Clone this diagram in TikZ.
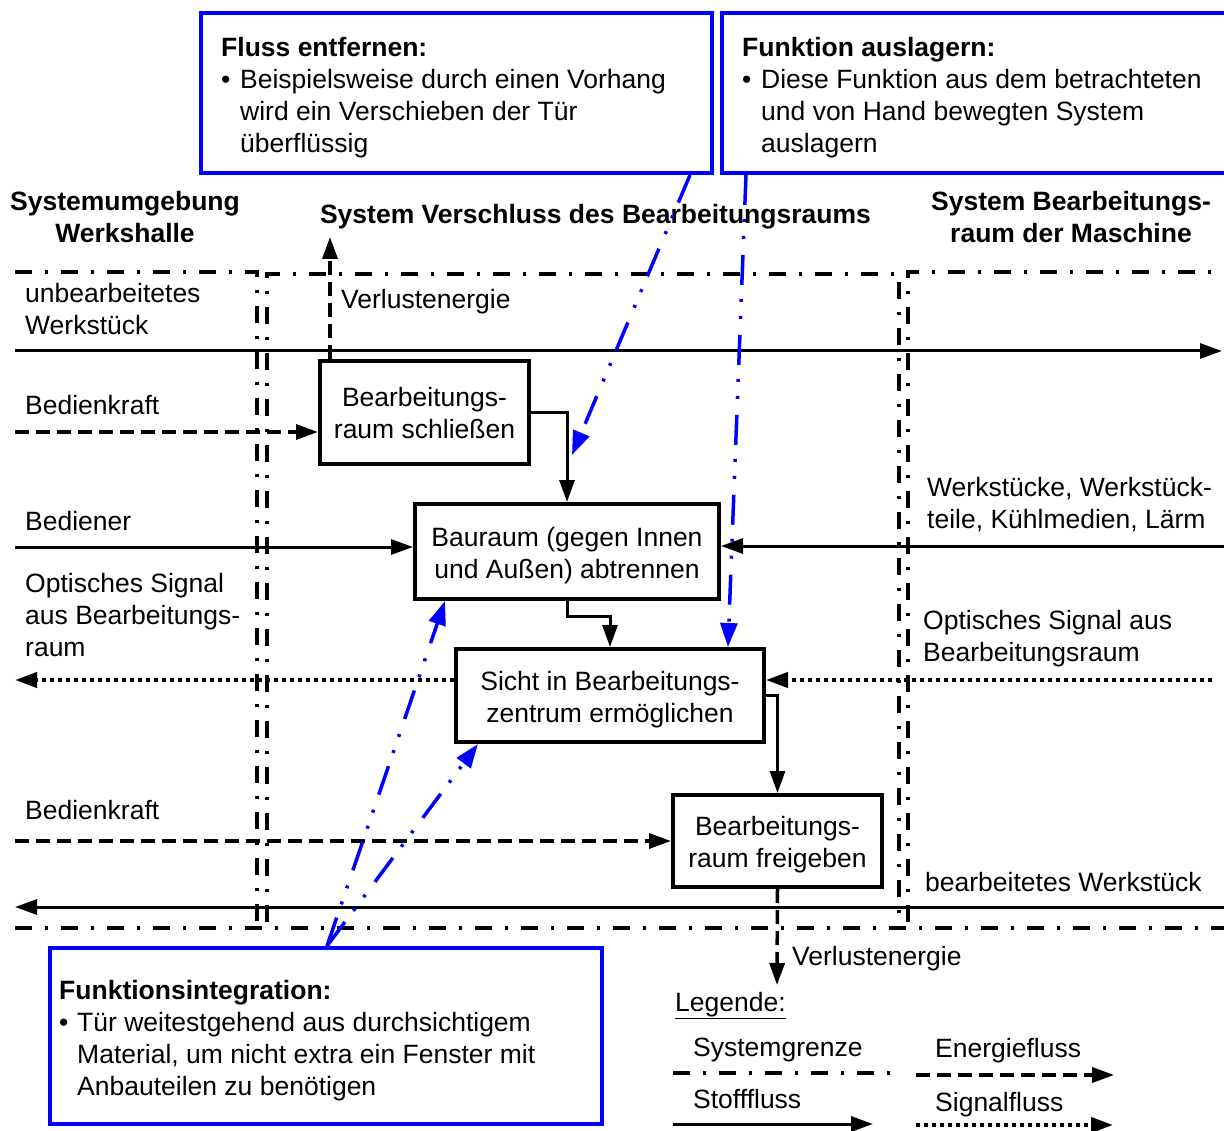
\documentclass[tikz,border=0pt]{standalone}
\usepackage{fontspec}
\setmainfont{Liberation Sans}
\usetikzlibrary{arrows.meta}
\definecolor{nblue}{RGB}{0,0,255}
\begin{document}
\begin{tikzpicture}[x=1pt,y=-1pt,
  % multi-line texts are placed by the baseline of their last line
  txt/.style={font=\fontsize{26.5}{32}\selectfont, inner sep=0pt, anchor=base west, align=left},
  ttl/.style={font=\fontsize{26.5}{32}\selectfont\bfseries, inner sep=0pt, anchor=base, align=center},
  fbox/.style={draw, line width=4pt, fill=white, inner sep=0pt},
  ftxt/.style={font=\fontsize{26.5}{32}\selectfont, align=center, inner sep=0pt},
  nbox/.style={draw=nblue, line width=4pt, fill=white, inner sep=0pt},
  sysb/.style={line width=4pt, dash pattern=on 17pt off 13pt on 3pt off 13pt},
  tip/.style={-{Triangle[length=22pt,width=15pt]}},
  stoff/.style={line width=3pt, tip},
  energie/.style={line width=3.5pt, dash pattern=on 14pt off 7pt, tip},
  signal/.style={line width=4pt, dash pattern=on 4pt off 4pt, tip},
  hint/.style={nblue, line width=3.5pt, dash pattern=on 30pt off 14pt on 3pt off 14pt on 3pt off 16pt,
    -{Triangle[length=24pt,width=17pt]}},
]
\useasboundingbox (0,0) rectangle (1224,1131);

% system boundaries
\draw[sysb] (15,272) -- (257,272) -- (257,922);
\draw[sysb] (267,922) -- (267,274) -- (899,274) -- (899,922);
\draw[sysb] (908,922) -- (908,272) -- (1224,272);
\draw[sysb] (15,928) -- (1224,928);

% system titles
\node[ttl] (t1) at (125,243) {Systemumgebung\\Werkshalle};
\node[ttl] (t2) at (595.5,224) {System Verschluss des Bearbeitungsraums};
\node[ttl] (t3) at (1071,243) {System Bearbeitungs-\\raum der Maschine};

% function boxes and their texts
\node[fbox, minimum width=209, minimum height=103] (b1) at (424.5,412.5) {};
\node[fbox, minimum width=304, minimum height=95] (b2) at (567,551.5) {};
\node[fbox, minimum width=308, minimum height=93] (b3) at (610,695.5) {};
\node[fbox, minimum width=209, minimum height=92] (b4) at (777.5,841) {};
\node[ftxt] (b1t) at ([yshift=-1pt]b1.center) {Bearbeitungs-\\raum schließen};
\node[ftxt] (b2t) at ([yshift=-4pt]b2.center) {Bauraum (gegen Innen\\und Außen) abtrennen};
\node[ftxt] (b3t) at ([yshift=-4pt]b3.center) {Sicht in Bearbeitungs-\\zentrum ermöglichen};
\node[ftxt] (b4t) at ([yshift=-4pt]b4.center) {Bearbeitungs-\\raum freigeben};

% free ends of the flows
\coordinate (wIn) at (15,351);   \coordinate (wOut) at (1222,351);
\coordinate (vUp) at (330,237);
\coordinate (bk1) at (15,432);
\coordinate (bed) at (15,547);
\coordinate (wkR) at (1224,546);
\coordinate (osL) at (15,680);   \coordinate (osR) at (1212,680);
\coordinate (bk2) at (15,841);
\coordinate (bwR) at (1224,907); \coordinate (bwL) at (15,907);
\coordinate (vDn) at (777,985);
\coordinate (xv) at (330,0);

% flows
\draw[stoff] (wIn) -- (wOut);
\draw[energie] (b1.north -| xv) -- (vUp);
\draw[energie] (bk1) -- (b1.west |- bk1);
\draw[stoff] (b1.east) -| (b2.north);
\draw[stoff] (bed) -- (b2.west |- bed);
\draw[stoff] (wkR) -- (b2.east |- wkR);
\draw[stoff] (b2.south) -- ++(0,15) -| (b3.north);
\draw[signal] (b3.west |- osL) -- (osL);
\draw[signal] (osR) -- (b3.east |- osR);
\draw[stoff] (b3.east) -| (b4.north);
\draw[energie] (bk2) -- (b4.west);
\draw[stoff] (bwR) -- (bwL);
\draw[energie] (b4.south) -- (vDn);

% flow labels
\node[txt] (l1) at (25,335) {unbearbeitetes\\Werkstück};
\node[txt] (l2) at (341,309) {Verlustenergie};
\node[txt] (l3) at (25,415) {Bedienkraft};
\node[txt] (l4) at (25,530) {Bediener};
\node[txt] (l5) at (25,656) {Optisches Signal\\aus Bearbeitungs-\\raum};
\node[txt] (l6) at (25,819) {Bedienkraft};
\node[txt] (l7) at (927,528) {Werkstücke, Werkstück-\\teile, Kühlmedien, Lärm};
\node[txt] (l8) at (923,661) {Optisches Signal aus\\Bearbeitungsraum};
\node[txt] (l9) at (925,891) {bearbeitetes Werkstück};
\node[txt] (l10) at (792,965) {Verlustenergie};

% note boxes
\node[nbox, minimum width=511, minimum height=160] (nA) at (456.5,93) {};
\node[nbox, minimum width=518, minimum height=160] (nB) at (981,93) {};
\node[nbox, minimum width=552, minimum height=176] (nC) at (326,1036) {};

\node[txt, font=\fontsize{26.5}{32}\selectfont\bfseries] (nAt) at (221,57) {Fluss entfernen:};
\node[txt] (nAb) at (221,89) {•};
\node[txt] (nAx) at (240,153) {Beispielsweise durch einen Vorhang\\wird ein Verschieben der Tür\\überflüssig};

\node[txt, font=\fontsize{26.5}{32}\selectfont\bfseries] (nBt) at (742,57) {Funktion auslagern:};
\node[txt] (nBb) at (742,89) {•};
\node[txt] (nBx) at (761,153) {Diese Funktion aus dem betrachteten\\und von Hand bewegten System\\auslagern};

\node[txt, font=\fontsize{26.5}{32}\selectfont\bfseries] (nCt) at (59,999) {Funktionsintegration:};
\node[txt] (nCb) at (59,1031) {•};
\node[txt] (nCx) at (77,1095) {Tür weitestgehend aus durchsichtigem\\Material, um nicht extra ein Fenster mit\\Anbauteilen zu benötigen};

% note arrows
\coordinate (xa) at (690,0);
\coordinate (xb) at (746,0);
\coordinate (xb2) at (728,0);
\coordinate (xc) at (327,0);
\coordinate (xc2) at (445,0);
\coordinate (xc3) at (478,0);
\coordinate (hA) at (572,455);
\draw[hint] (nA.south -| xa) -- (hA);
\draw[hint] (nB.south -| xb) -- (b3.north -| xb2);
\draw[hint] (nC.north -| xc) -- (b2.south -| xc2);
\draw[hint] (nC.north -| xc) -- (b3.south -| xc3);

% legend
\node[txt] (lg) at (675,1011) {\underline{Legende:}};
\node[txt] (lg1) at (693,1056) {Systemgrenze};
\node[txt] (lg2) at (935,1057) {Energiefluss};
\node[txt] (lg3) at (693,1108) {Stofffluss};
\node[txt] (lg4) at (935,1111) {Signalfluss};
\coordinate (s1a) at (673,1073); \coordinate (s1b) at (890,1073);
\coordinate (s2a) at (916,1075); \coordinate (s2b) at (1114,1075);
\coordinate (s3a) at (673,1124); \coordinate (s3b) at (873,1124);
\coordinate (s4a) at (916,1125); \coordinate (s4b) at (1113,1125);
\draw[sysb] (s1a) -- (s1b);
\draw[energie] (s2a) -- (s2b);
\draw[stoff] (s3a) -- (s3b);
\draw[signal] (s4a) -- (s4b);
\end{tikzpicture}
\end{document}
